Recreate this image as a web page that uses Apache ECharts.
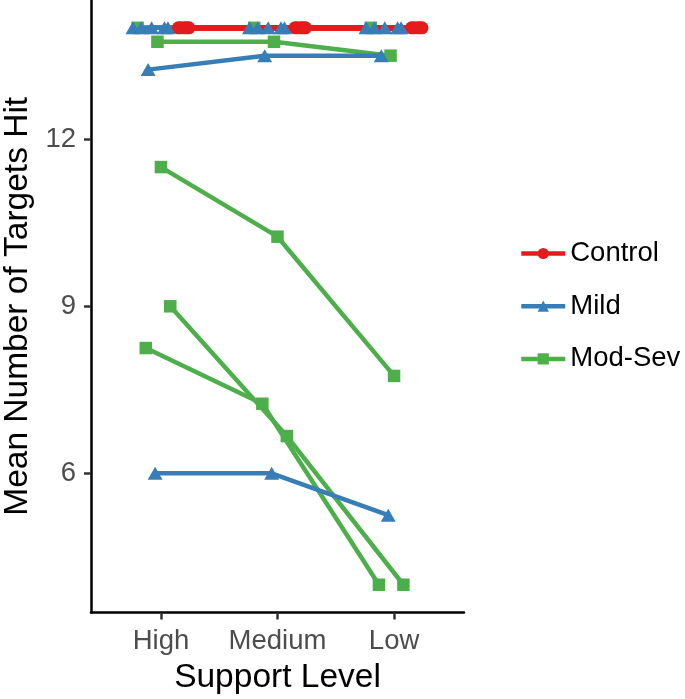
<!DOCTYPE html>
<html><head><meta charset="utf-8">
<script src="https://cdn.jsdelivr.net/npm/echarts@6/dist/echarts.min.js"></script>
<style>html,body{margin:0;padding:0;background:#fff}#c{width:685px;height:699px}</style>
</head><body><div id="c"></div>
<script>
// Categories (x) and tick labels (y)
const categories = ['High', 'Medium', 'Low'];
const yTicks = [6, 9, 12];
const groups = ['Control', 'Mild', 'Mod-Sev'];

// Mean number of targets hit per subject at High, Medium, Low support
const controlValues = [[14,14,14],[14,14,14],[14,14,14],[14,14,14],[14,14,14]];
const controlJitter = [0.15, 0.17, 0.2, 0.22, 0.24];

const mildValues = [[14,14,14],[14,14,14],[14,14,14],[14,14,14],[14,14,14],[13.25,13.5,13.5],[6,6,5.25]];
const mildJitter = [-0.24, -0.17, -0.08, 0.03, 0.06, -0.11, -0.05];

const modSevValues = [[14,14,14],[13.75,13.75,13.5],[11.5,10.25,7.75],[9,6.67,4],[8.25,7.25,4]];
const modSevJitter = [-0.2, -0.03, 0, 0.08, -0.13];

const FONT = "'Liberation Sans', Arial, Helvetica, sans-serif";
const styles = {
  'Control': { color: '#E41A1C', symbol: 'circle', size: 13, width: 5.5 },
  'Mild':    { color: '#377EB8', symbol: 'triangle', size: [15, 13], width: 4.5 },
  'Mod-Sev': { color: '#4DAF4A', symbol: 'rect', size: 12.5, width: 4.5 }
};
const groupData = {
  'Control': [controlValues, controlJitter],
  'Mild': [mildValues, mildJitter],
  'Mod-Sev': [modSevValues, modSevJitter]
};

function subjectPoints(vals, jit) {
  return vals.map((v, i) => [i + 1 + jit, v]);
}

const series = [];
const lineZ = { 'Mod-Sev': 2, 'Mild': 3, 'Control': 4 };
groups.forEach(g => {
  const [vals, jit] = groupData[g];
  const s = styles[g];
  vals.forEach((subj, k) => {
    series.push({
      type: 'line', name: g, z: lineZ[g],
      data: subjectPoints(subj, jit[k]),
      showSymbol: false, symbol: s.symbol, symbolSize: s.size,
      lineStyle: { color: s.color, width: s.width },
      itemStyle: { color: s.color },
      silent: true, animation: false
    });
  });
});
const pointZ = { 'Control': 5, 'Mod-Sev': 6, 'Mild': 7 };
['Control', 'Mod-Sev', 'Mild'].forEach(g => {
  const [vals, jit] = groupData[g];
  const s = styles[g];
  let pts = [];
  vals.forEach((subj, k) => { pts = pts.concat(subjectPoints(subj, jit[k])); });
  series.push({
    type: 'scatter', name: g, z: pointZ[g],
    data: pts, symbol: s.symbol, symbolSize: s.size,
    itemStyle: { color: s.color, opacity: 1 },
    silent: true, animation: false
  });
});

const chart = echarts.init(document.getElementById('c'), null, { renderer: 'canvas' });
chart.setOption({
  animation: false,
  backgroundColor: '#fff',
  textStyle: { fontFamily: FONT },
  grid: { left: 91, right: 221, top: 0, bottom: 86.4, outerBoundsMode: 'none', containLabel: false },
  legend: {
    data: groups, orient: 'vertical', left: 519, top: 239.5, padding: 0,
    itemWidth: 44, itemHeight: 14, itemGap: 24.7, selectedMode: false,
    lineStyle: { width: 4.5 },
    textStyle: { fontFamily: FONT, fontSize: 27.5, color: '#000', lineHeight: 27.5 }
  },
  xAxis: {
    type: 'value', min: 0.4, max: 3.6,
    name: 'Support Level', nameLocation: 'middle', nameGap: 48,
    nameTextStyle: { fontFamily: FONT, fontSize: 33.5, color: '#000', lineHeight: 33.5 },
    axisLine: { onZero: false, lineStyle: { color: '#000', width: 2.5 } },
    axisTick: { customValues: [1, 2, 3], length: 7, lineStyle: { color: '#333', width: 2.5 } },
    axisLabel: { customValues: [1, 2, 3], formatter: v => categories[Math.round(v) - 1],
      fontFamily: FONT, fontSize: 27.5, color: '#4D4D4D', margin: 15.5, lineHeight: 27.5 },
    splitLine: { show: false }
  },
  yAxis: {
    type: 'value', min: 3.5, max: 14.5,
    name: 'Mean Number of Targets Hit', nameLocation: 'middle', nameGap: 47, nameRotate: 90,
    nameTextStyle: { fontFamily: FONT, fontSize: 33.5, color: '#000', lineHeight: 33.5 },
    axisLine: { show: true, onZero: false, lineStyle: { color: '#000', width: 2.5 } },
    axisTick: { show: true, customValues: yTicks, length: 7, lineStyle: { color: '#333', width: 2.5 } },
    axisLabel: { customValues: yTicks, fontFamily: FONT, fontSize: 27.5, color: '#4D4D4D', margin: 15 },
    splitLine: { show: false }
  },
  series: series
});
</script></body></html>
